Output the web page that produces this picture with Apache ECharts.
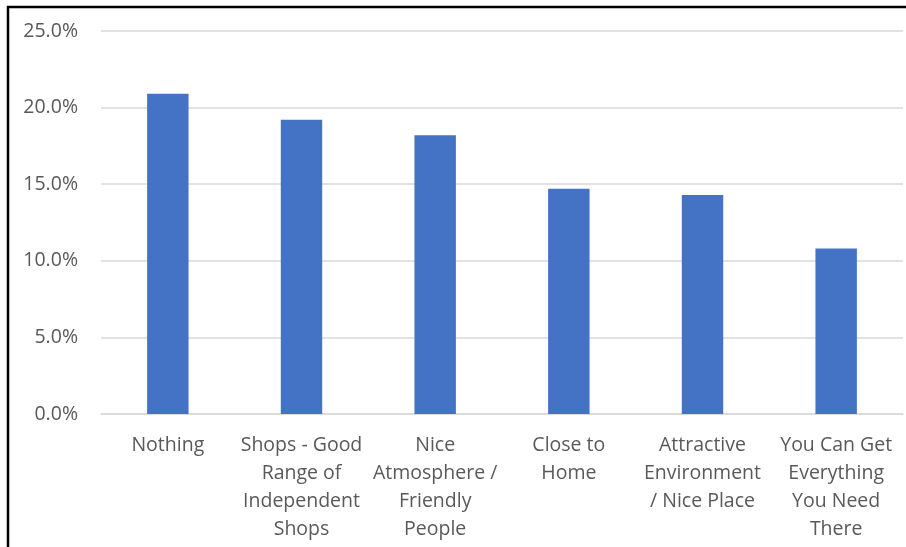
<!DOCTYPE html>
<html>
<head>
<meta charset="utf-8">
<script src="https://cdn.jsdelivr.net/npm/echarts@6/dist/echarts.min.js"></script>
<style>
  html, body { margin: 0; padding: 0; background: #fff; }
  #chart { width: 906px; height: 547px; }
</style>
</head>
<body>
<div id="chart"></div>
<script>
// Category labels, wrapped the way they appear under each bar
const categories = [
  'Nothing',
  'Shops - Good\nRange of\nIndependent\nShops',
  'Nice\nAtmosphere /\nFriendly\nPeople',
  'Close to\nHome',
  'Attractive\nEnvironment\n/ Nice Place',
  'You Can Get\nEverything\nYou Need\nThere'
];
// Share of responses, in percent
const shares = [20.9, 19.2, 18.2, 14.7, 14.3, 10.8];
// Value-axis range and step, in percent
const yMin = 0;
const yMax = 25;
const yStep = 5;

const chart = echarts.init(document.getElementById('chart'), null, { renderer: 'canvas' });
const textColor = '#595959';
const fontFamily = '"Open Sans", "Noto Sans", sans-serif';

chart.setOption({
  animation: false,
  backgroundColor: '#ffffff',
  grid: { left: 101, right: 3, top: 31, bottom: 133, containLabel: false },
  graphic: [{
    type: 'rect',
    shape: { x: 8, y: 7, width: 1200, height: 1200 },
    style: { fill: 'none', stroke: '#000', lineWidth: 2.5 },
    silent: true,
    z: 100
  }],
  xAxis: {
    type: 'category',
    data: categories,
    axisLine: { show: true, lineStyle: { color: '#d9d9d9', width: 1.5 } },
    axisTick: { show: false },
    axisLabel: {
      color: textColor,
      fontFamily: fontFamily,
      fontSize: 19.5,
      lineHeight: 28,
      margin: 17,
      interval: 0
    }
  },
  yAxis: {
    type: 'value',
    min: yMin,
    max: yMax,
    interval: yStep,
    axisLine: { show: false },
    axisTick: { show: false },
    splitLine: { lineStyle: { color: '#d9d9d9', width: 1.5 } },
    axisLabel: {
      color: textColor,
      fontFamily: fontFamily,
      fontSize: 19.5,
      margin: 23,
      formatter: v => v.toFixed(1) + '%'
    }
  },
  series: [{
    type: 'bar',
    data: shares,
    barWidth: '31%',
    itemStyle: { color: '#4472c4' }
  }]
});
</script>
</body>
</html>
